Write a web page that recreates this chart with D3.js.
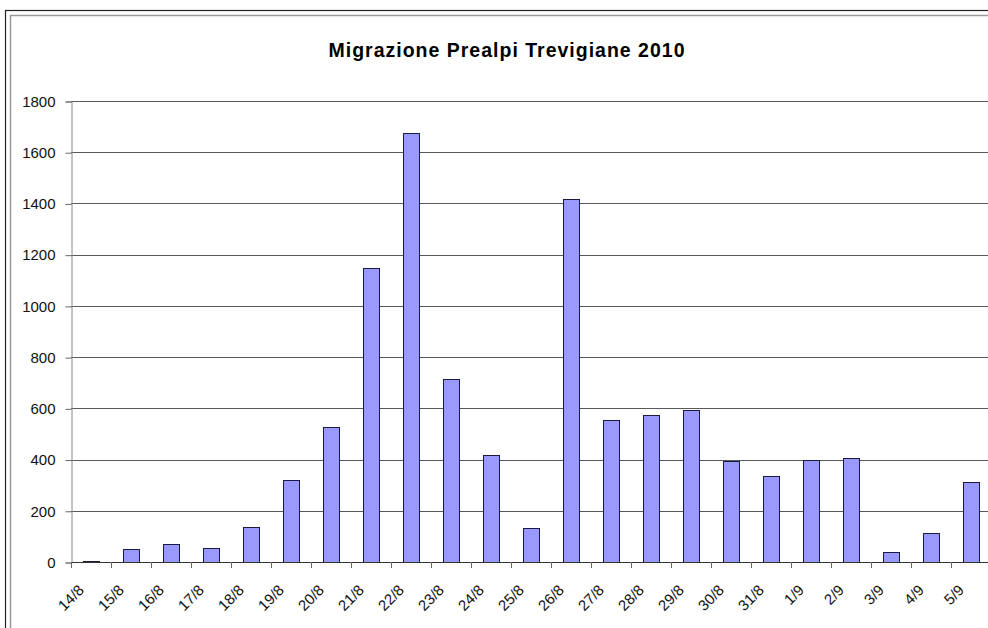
<!DOCTYPE html>
<html lang="it">
<head>
    <meta charset="UTF-8"/>
    <title>Migrazione Prealpi Trevigiane 2010</title>
    <script src="https://d3js.org/d3.v7.min.js"></script>
    <style>
        body { margin: 0; background: #fff; }
        svg { display: block; font-family: "Liberation Sans", Arial, sans-serif; }
    </style>
</head>
<body>
<script>

    var w = 988;
    var h = 628;

    // giorni di osservazione
    var days = ["14/8", "15/8", "16/8", "17/8", "18/8", "19/8", "20/8", "21/8", "22/8", "23/8",
                "24/8", "25/8", "26/8", "27/8", "28/8", "29/8", "30/8", "31/8", "1/9", "2/9",
                "3/9", "4/9", "5/9"];

    // conteggi giornalieri
    var counts = [5, 50, 69, 56, 137, 321, 527, 1148, 1674, 713,
                  418, 134, 1419, 553, 574, 593, 393, 335, 397, 406,
                  40, 113, 311];

    var yTicks = [0, 200, 400, 600, 800, 1000, 1200, 1400, 1600, 1800];

    // area del grafico (il bordo destro esce dall'immagine)
    var plotLeft = 71, plotTop = 101, plotBottom = 562, plotRight = 991;

    var svg = d3.select("body")
                .append("svg")
                .attr("width", w)
                .attr("height", h);

    // cornice doppia (tagliata a destra e in basso)
    svg.append("rect")
        .attr("x", 5.5).attr("y", 10.5)
        .attr("width", 1000).attr("height", 700)
        .attr("fill", "none")
        .attr("stroke", "#222")
        .attr("stroke-width", 1.2);
    svg.append("rect")
        .attr("x", 10.5).attr("y", 15.5)
        .attr("width", 1000).attr("height", 700)
        .attr("fill", "none")
        .attr("stroke", "#999")
        .attr("stroke-width", 1.5);

    svg.append("text")
        .attr("x", 507)
        .attr("y", 57)
        .attr("text-anchor", "middle")
        .style("font-size", "19.5px")
        .style("font-weight", "bold")
        .style("letter-spacing", "1px")
        .text("Migrazione Prealpi Trevigiane 2010");

    var xScale = d3.scaleBand()
                    .domain(days)
                    .range([plotLeft, plotRight])
                    .paddingInner(0.6)
                    .paddingOuter(0.3);

    var xTick = d3.scaleBand()
                    .domain(days)
                    .range([plotLeft, plotRight]);

    var yScale = d3.scaleLinear()
                    .domain([0, 1800])
                    .range([plotBottom, plotTop]);

    // griglia orizzontale
    svg.append("g")
        .selectAll("line")
        .data(yTicks.slice(1))
        .enter()
        .append("line")
        .attr("x1", plotLeft)
        .attr("x2", w)
        .attr("y1", function(d){ return Math.round(yScale(d)) + 0.5; })
        .attr("y2", function(d){ return Math.round(yScale(d)) + 0.5; })
        .attr("stroke", "#5a5a5a")
        .attr("stroke-width", 1);

    // asse Y
    var yAxis = svg.append("g")
        .attr("transform", "translate(" + (plotLeft + 0.5) + ",0.5)")
        .call(d3.axisLeft(yScale).tickValues(yTicks).tickSize(6).tickPadding(10).tickFormat(d3.format("d")));
    yAxis.select(".domain").attr("stroke", "#888");
    yAxis.selectAll(".tick line").attr("stroke", "#666");
    yAxis.selectAll("text")
        .attr("fill", "#111")
        .style("font-size", "15px")
        .style("font-family", "'Liberation Sans', Arial, sans-serif");

    // barre
    svg.selectAll(".bar")
        .data(counts)
        .enter()
        .append("rect")
        .attr("class", "bar")
        .attr("x", function(d, i){ return Math.round(xScale(days[i])) + 0.5; })
        .attr("y", function(d){ return Math.round(yScale(d)) + 0.5; })
        .attr("width", Math.round(xScale.bandwidth()))
        .attr("height", function(d){ return Math.round(plotBottom - yScale(d)); })
        .attr("fill", "#9999ff")
        .attr("stroke", "#1a1a40")
        .attr("stroke-width", 1);

    // asse X
    var xAxisG = svg.append("g");
    xAxisG.append("line")
        .attr("x1", plotLeft).attr("x2", w)
        .attr("y1", plotBottom + 0.5).attr("y2", plotBottom + 0.5)
        .attr("stroke", "#333");
    xAxisG.selectAll(".xtick")
        .data(days)
        .enter()
        .append("line")
        .attr("class", "xtick")
        .attr("x1", function(d){ return Math.round(xTick(d)) + 0.5; })
        .attr("x2", function(d){ return Math.round(xTick(d)) + 0.5; })
        .attr("y1", plotBottom)
        .attr("y2", plotBottom + 6)
        .attr("stroke", "#666");

    xAxisG.selectAll(".x_label")
        .data(days)
        .enter()
        .append("text")
        .attr("class", "x_label")
        .attr("text-anchor", "end")
        .attr("fill", "#111")
        .style("font-size", "15px")
        .attr("transform", function(d){
            var cx = xTick(d) + xTick.bandwidth() / 2 - 6;
            return "translate(" + cx + "," + (plotBottom + 29) + ") rotate(-45)";
        })
        .text(function(d){ return d; });

</script>
</body>
</html>
